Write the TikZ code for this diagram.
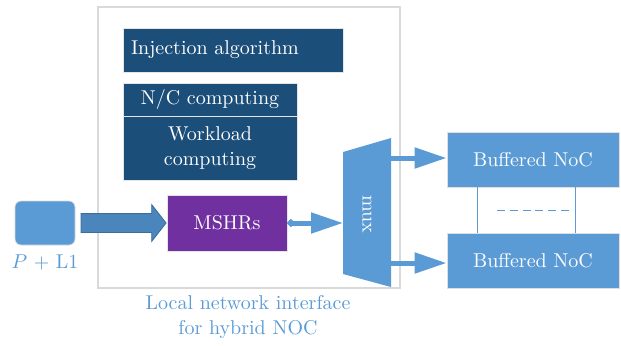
\documentclass[tikz,border=0pt]{standalone}
\usetikzlibrary{arrows.meta,shapes.arrows}

\definecolor{darkbox}{HTML}{1C4E7A}
\definecolor{lightbox}{HTML}{5B9BD5}
\definecolor{purplebox}{HTML}{7030A0}
\definecolor{bigarrow}{HTML}{4A86BC}
\definecolor{bigarrowedge}{HTML}{3B6E9C}
\definecolor{framegray}{HTML}{D9D9D9}

\begin{document}
\begin{tikzpicture}[x=0.5pt, y=-0.5pt,
  box/.style={draw=gray!20, line width=0.4pt, text=white, inner sep=0pt, align=center, font=\fontsize{10}{12.5}\selectfont},
  flow/.style={draw=lightbox, line width=2.5pt, -{Triangle[length=16pt,width=10pt]}},
  caption/.style={text=lightbox, align=center, font=\fontsize{10}{12.5}\selectfont}]

\useasboundingbox (0,0) rectangle (621,345);

\node [draw=framegray, line width=0.75pt, minimum width=151pt, minimum height=140.5pt] (ni) at (249,147.5) {};

\node [box, fill=darkbox, minimum height=22pt, text width=102pt, inner xsep=4pt, align=left] (inj) at (233,50) {Injection algorithm};
\node [box, fill=darkbox, minimum width=87pt, minimum height=16.5pt] (nc) at (210,99.5) {N/C computing};
\node [box, fill=darkbox, minimum width=87pt, minimum height=32pt] (wl) at (210,148) {Workload\\computing};
\node [box, fill=purplebox, minimum width=60pt, minimum height=28pt] (mshr) at (227,223) {MSHRs};

\node [box, fill=lightbox, draw=gray!30, rounded corners=3pt, minimum width=30pt, minimum height=22pt] (pl) at (45,223) {};
\node [caption] (pllabel) at (45,262) {$P$ + L1};

\node [single arrow, draw=bigarrowedge, fill=bigarrow, line width=0.4pt, inner sep=4.5pt, single arrow head extend=4.5pt, single arrow tip angle=104, minimum height=42.5pt, anchor=tip] (feed) at (mshr.west) {};

\fill [lightbox] (343,152) coordinate (muxnw) -- (391,138) coordinate (muxne) -- (391,287) coordinate (muxse) -- (343,274) coordinate (muxsw) -- cycle;
\node [text=white, rotate=-90, font=\fontsize{10}{12}\selectfont] (muxlabel) at (367,214) {mux};
\coordinate (muxin) at (343,223);
\coordinate (muxout1) at (391,158);
\coordinate (muxout2) at (391,263);

\node [box, fill=lightbox, draw=gray!25, minimum width=86pt, minimum height=27.5pt] (noc1) at (533,159.5) {Buffered NoC};
\node [box, fill=lightbox, draw=gray!25, minimum width=86pt, minimum height=27.5pt] (noc2) at (533,260.5) {Buffered NoC};

\draw [flow, line cap=round, {Circle[length=3.5pt]}-{Triangle[length=16pt,width=10pt]}] (mshr.east) -- (mshr.east -| muxin);
\draw [flow] (muxout1) -- (muxout1 -| noc1.west);
\draw [flow] (muxout2) -- (muxout2 -| noc2.west);

\draw [draw=lightbox, line width=0.8pt] ([xshift=15.5pt]noc1.south west) -- ([xshift=15.5pt]noc2.north west);
\draw [draw=lightbox, line width=0.8pt] ([xshift=-22pt]noc1.south east) -- ([xshift=-22pt]noc2.north east);
\draw [draw=lightbox, line width=0.8pt, dash pattern=on 4pt off 2.4pt] ([xshift=-18pt,yshift=-11.5pt]noc1.south) -- ([xshift=18pt,yshift=-11.5pt]noc1.south);

\node [caption] (nilabel) at (248,317) {Local network interface\\for hybrid NOC};

\end{tikzpicture}
\end{document}
